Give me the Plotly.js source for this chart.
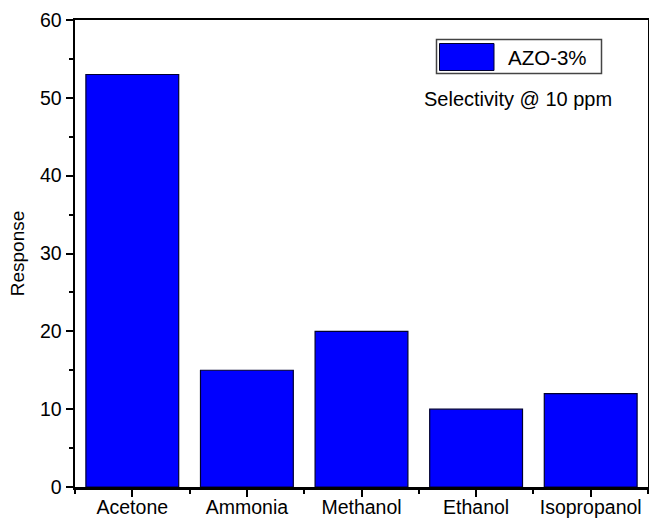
<!DOCTYPE html>
<html>
<head>
<meta charset="utf-8">
<script src="https://cdn.plot.ly/plotly-3.0.1.min.js"></script>
<style>html,body{margin:0;padding:0;background:#fff;}#chart{width:649px;height:520px;}</style>
</head>
<body>
<div id="chart"></div>
<script>
var categories = ["Acetone", "Ammonia", "Methanol", "Ethanol", "Isopropanol"];
var responses = [53, 15, 20, 10, 12];
var seriesName = "AZO-3%";
var yTicks = [0, 10, 20, 30, 40, 50, 60];
var noteText = "Selectivity @ 10 ppm";

var positions = categories.map(function (c, i) { return i; });
var font = "Liberation Sans, Arial, Helvetica, sans-serif";

var trace = {
  type: "bar",
  x: positions,
  y: responses,
  name: seriesName,
  width: 0.81,
  marker: { color: "#0000FF", line: { color: "#000030", width: 1.2 } },
  showlegend: false,
  hovertext: categories
};

// plot area in pixels: x 75..648, y 20..487
function px(x) { return (x - 75) / 573; }
function py(y) { return (487 - y) / 467; }

var layout = {
  width: 649, height: 520,
  margin: { l: 75, r: 1, t: 20, b: 33 },
  paper_bgcolor: "#fff", plot_bgcolor: "#fff",
  font: { family: font, size: 19.5, color: "#000" },
  xaxis: {
    range: [-0.5, 4.5],
    tickvals: positions,
    ticktext: categories,
    ticks: "outside", ticklen: 7, tickwidth: 2, tickcolor: "#000",
    ticklabelstandoff: -6,
    showline: true, linewidth: 2.5, linecolor: "#000", mirror: true,
    showgrid: false, zeroline: false,
    tickfont: { size: 19.5 },
    minor: { tickmode: "linear", tick0: 0.5, dtick: 1, ticks: "outside", ticklen: 4, tickwidth: 2, tickcolor: "#000", showgrid: false }
  },
  yaxis: {
    range: [0, 60],
    tickvals: yTicks,
    ticks: "outside", ticklen: 7, tickwidth: 2, tickcolor: "#000",
    showline: true, linewidth: 2.5, linecolor: "#000", mirror: true,
    showgrid: false, zeroline: false,
    tickfont: { size: 19.5 },
    title: { text: "Response", font: { size: 19 }, standoff: 10 },
    minor: { tickmode: "linear", tick0: 0, dtick: 5, ticks: "outside", ticklen: 4, tickwidth: 2, tickcolor: "#000", showgrid: false }
  },
  shapes: [
    { type: "rect", xref: "paper", yref: "paper", x0: px(436.5), x1: px(601.5), y0: py(73.5), y1: py(39.5),
      line: { color: "#444", width: 1.5 }, fillcolor: "#fff" },
    { type: "rect", xref: "paper", yref: "paper", x0: px(439.5), x1: px(494), y0: py(70.5), y1: py(43.5),
      line: { color: "#000030", width: 1 }, fillcolor: "#0000FF" }
  ],
  annotations: [
    { xref: "paper", yref: "paper", x: px(547), y: py(57), text: seriesName, showarrow: false,
      xanchor: "center", yanchor: "middle", font: { size: 20.5 } },
    { xref: "paper", yref: "paper", x: px(518), y: py(99), text: noteText, showarrow: false,
      xanchor: "center", yanchor: "middle", font: { size: 20 } }
  ]
};

Plotly.newPlot("chart", [trace], layout, { displayModeBar: false, staticPlot: true });
</script>
</body>
</html>
